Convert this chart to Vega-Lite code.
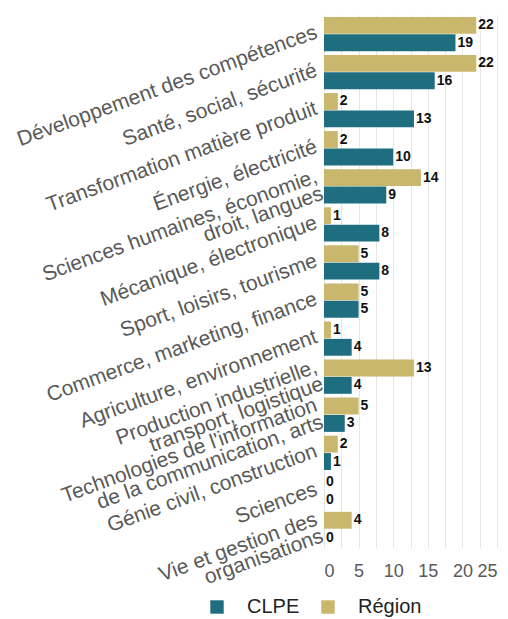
{
  "$schema": "https://vega.github.io/schema/vega-lite/v6.json",
  "width": 173,
  "height": 533,
  "autosize": {"type": "none"},
  "padding": {"left": 324, "top": 15, "right": 11, "bottom": 71},
  "background": "white",
  "config": {
    "view": {"stroke": null},
    "font": "Liberation Sans"
  },
  "data": {
    "values": [
      {"cat": "Développement des compétences", "serie": "Région", "value": 22},
      {"cat": "Développement des compétences", "serie": "CLPE", "value": 19},
      {"cat": "Santé, social, sécurité", "serie": "Région", "value": 22},
      {"cat": "Santé, social, sécurité", "serie": "CLPE", "value": 16},
      {"cat": "Transformation matière produit", "serie": "Région", "value": 2},
      {"cat": "Transformation matière produit", "serie": "CLPE", "value": 13},
      {"cat": "Énergie, électricité", "serie": "Région", "value": 2},
      {"cat": "Énergie, électricité", "serie": "CLPE", "value": 10},
      {"cat": "Sciences humaines, économie,|droit, langues", "serie": "Région", "value": 14},
      {"cat": "Sciences humaines, économie,|droit, langues", "serie": "CLPE", "value": 9},
      {"cat": "Mécanique, électronique", "serie": "Région", "value": 1},
      {"cat": "Mécanique, électronique", "serie": "CLPE", "value": 8},
      {"cat": "Sport, loisirs, tourisme", "serie": "Région", "value": 5},
      {"cat": "Sport, loisirs, tourisme", "serie": "CLPE", "value": 8},
      {"cat": "Commerce, marketing, finance", "serie": "Région", "value": 5},
      {"cat": "Commerce, marketing, finance", "serie": "CLPE", "value": 5},
      {"cat": "Agriculture, environnement", "serie": "Région", "value": 1},
      {"cat": "Agriculture, environnement", "serie": "CLPE", "value": 4},
      {"cat": "Production industrielle,|transport, logistique", "serie": "Région", "value": 13},
      {"cat": "Production industrielle,|transport, logistique", "serie": "CLPE", "value": 4},
      {"cat": "Technologies de l'information|de la communication, arts", "serie": "Région", "value": 5},
      {"cat": "Technologies de l'information|de la communication, arts", "serie": "CLPE", "value": 3},
      {"cat": "Génie civil, construction", "serie": "Région", "value": 2},
      {"cat": "Génie civil, construction", "serie": "CLPE", "value": 1},
      {"cat": "Sciences", "serie": "Région", "value": 0},
      {"cat": "Sciences", "serie": "CLPE", "value": 0},
      {"cat": "Vie et gestion des|organisations", "serie": "Région", "value": 4},
      {"cat": "Vie et gestion des|organisations", "serie": "CLPE", "value": 0}
    ]
  },
  "encoding": {
    "y": {
      "field": "cat",
      "type": "nominal",
      "sort": null,
      "scale": {"paddingInner": 0.1, "paddingOuter": 0.05},
      "axis": {
        "title": null,
        "domain": false,
        "ticks": false,
        "labelAngle": -20,
        "labelAlign": "right",
        "labelBaseline": "middle",
        "labelFontSize": 21,
        "labelColor": "#595959",
        "labelPadding": 8,
        "labelOffset": {"condition": {"test": "indexof(datum.value, '|') >= 0", "value": -10}, "value": -2},
        "labelLimit": 0,
        "labelLineHeight": 18,
        "labelExpr": "split(datum.label, '|')"
      }
    },
    "yOffset": {
      "field": "serie",
      "type": "nominal",
      "sort": ["Région", "CLPE"],
      "scale": {"paddingInner": 0.03}
    },
    "x": {
      "field": "value",
      "type": "quantitative",
      "scale": {"domain": [0, 25], "nice": false},
      "axis": {
        "title": null,
        "domain": false,
        "ticks": false,
        "values": [0, 2.5, 5, 7.5, 10, 12.5, 15, 17.5, 20, 22.5, 25],
        "labelExpr": "datum.value % 5 === 0 ? datum.label : ''",
        "labelFontSize": 18,
        "labelColor": "#595959",
        "labelPadding": 14,
        "gridColor": "#E6E6E6",
        "gridWidth": 1
      }
    }
  },
  "layer": [
    {
      "mark": {"type": "bar"},
      "encoding": {
        "color": {
          "field": "serie",
          "type": "nominal",
          "scale": {"domain": ["CLPE", "Région"], "range": ["#1F6E80", "#C9B76E"]},
          "legend": {
            "title": null,
            "orient": "none",
            "direction": "horizontal",
            "legendX": -117,
            "legendY": 582,
            "symbolType": "square",
            "symbolSize": 180,
            "symbolStrokeWidth": 0,
            "labelFontSize": 20,
            "labelColor": "#222222",
            "labelOffset": 20,
            "columnPadding": 18,
            "padding": 0
          }
        }
      }
    },
    {
      "mark": {"type": "text", "align": "left", "baseline": "middle", "dx": 2, "fontWeight": "bold", "fontSize": 14, "color": "#111111"},
      "encoding": {
        "text": {"field": "value", "type": "quantitative"}
      }
    }
  ]
}
